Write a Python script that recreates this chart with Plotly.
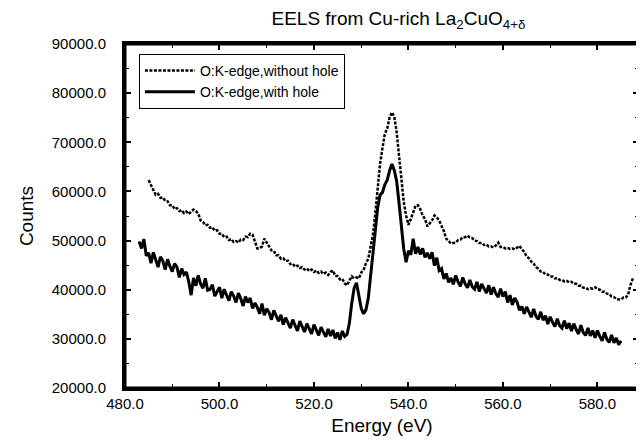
import numpy as np
import plotly.graph_objects as go

# Energy grids (eV), 0.5 eV sampling
energy_with_hole = np.round(np.arange(483.0, 585.01, 0.5), 1)
energy_without_hole = np.round(np.arange(485.0, 587.51, 0.5), 1)

counts_with_hole = [
    49800, 48400, 50300, 46900, 47500, 45400, 47600, 46200, 44600, 46700,
    45900, 44100, 46200, 44800, 43700, 45300, 44600, 42500, 44300, 43100,
    43600, 41600, 38900, 42400, 40800, 42900, 41200, 40300, 42300, 39900,
    40100, 41000, 38700, 39600, 40500, 38300, 40100, 38900, 37800, 39600,
    38700, 37400, 39300, 38200, 36700, 38600, 37400, 38300, 36200, 37300,
    36400, 35100, 37200, 34800, 36100, 35400, 33900, 35800, 34700, 33600,
    34900, 32900, 34300, 33400, 32200, 33900, 32800, 31600, 33600, 32300,
    31400, 33100, 32200, 31000, 32900, 31700, 30700, 32400, 31200, 30400,
    32000, 30600, 31800, 30100, 31300, 29800, 31600, 30500, 30900, 33200,
    37300, 40300, 41400, 38900, 36200, 35100, 35900, 38300, 43200, 48300,
    53200, 56800, 59300, 59800, 61400, 62300, 64200, 65600, 64300, 62100,
    57700, 53200, 48300, 45600, 47900, 47100, 50400, 47300, 48700, 47200,
    48400, 46600, 47500, 46300, 47600, 44900, 46500, 43900, 44300, 42200,
    43300, 41500, 42400, 41100, 42900, 41600, 40700, 42500, 41200, 40400,
    42000, 40600, 40100, 41600, 39600, 41200, 40200, 39300, 40900, 39000,
    40500, 39200, 38500, 40200, 38600, 39600, 37400, 38900, 36900, 38300,
    37500, 35800, 36600, 35100, 36500, 35300, 34400, 36100, 34600, 34000,
    35500, 33800, 34700, 33000, 34500, 33400, 32500, 34100, 32700, 32200,
    33700, 32100, 33200, 31600, 33100, 31900, 31000, 32800, 31300, 30700,
    32200, 30600, 31700, 30200, 31700, 30500, 29600, 31300, 29900, 29300,
    30800, 29200, 30200, 28800, 29600,
]

counts_without_hole = [
    62300, 61200, 60200, 59300, 59500, 58700, 58800, 58100, 58000, 57200,
    57200, 56400, 56600, 56000, 56200, 55600, 55900, 55400, 55900, 56300,
    56000, 55500, 54100, 53800, 53100, 53200, 52600, 52700, 52000, 52100,
    51400, 51400, 50700, 50800, 50100, 50300, 49700, 49900, 49600, 50200,
    50100, 50800, 50700, 51400, 51200, 50000, 48400, 48400, 48800, 50400,
    49600, 49000, 48000, 47900, 47000, 47000, 46300, 46400, 45800, 45900,
    45200, 45300, 44700, 44900, 44400, 44600, 44100, 44300, 43800, 44100,
    43600, 43900, 43400, 43700, 43200, 43500, 43000, 43600, 43900, 42800,
    42800, 42100, 42200, 41300, 40900, 41900, 42700, 42300, 42500, 42300,
    43500, 44000, 45400, 46300, 48700, 51300, 55700, 60800, 65700, 68800,
    71700, 72800, 75000, 76100, 75200, 72100, 67400, 62100, 57900, 55100,
    53200, 54400, 55700, 57100, 57200, 56400, 55100, 54400, 52900, 53400,
    54100, 55100, 54700, 54100, 53100, 51900, 50400, 49800, 49400, 49500,
    49600, 50100, 50200, 50700, 50700, 51000, 50600, 50500, 50000, 49900,
    49500, 49500, 49100, 49200, 48800, 48800, 48600, 49000, 49600, 48700,
    48700, 48400, 48500, 48300, 48400, 48200, 48600, 48900, 48200, 47700,
    46800, 46400, 45700, 45300, 44600, 44300, 43700, 43600, 43100, 43100,
    42700, 42700, 42300, 42400, 42000, 42000, 41700, 41800, 41500, 41600,
    41200, 41200, 40800, 40800, 40400, 40400, 40100, 40300, 40200, 40500,
    40100, 40000, 39600, 39600, 39200, 39100, 38600, 38500, 38100, 38100,
    38000, 38400, 38400, 39000, 41000, 42300,
]

x_ticks = [480, 500, 520, 540, 560, 580]
y_ticks = [20000, 30000, 40000, 50000, 60000, 70000, 80000, 90000]

FONT = "Liberation Sans, Arial, sans-serif"

# page body has an 8px margin, so the figure is made 8px smaller
W, H = 636, 435
ML, MR, MT, MB = 117, 2, 36, 55
PW = W - ML - MR

fig = go.Figure()
fig.add_trace(go.Scatter(
    x=energy_without_hole, y=counts_without_hole, mode="lines",
    name="O:K-edge,without hole",
    line=dict(color="black", width=2.5, dash="3px,1.5px"),
))
fig.add_trace(go.Scatter(
    x=energy_with_hole, y=counts_with_hole, mode="lines",
    name="O:K-edge,with hole",
    line=dict(color="black", width=3),
))

axis_common = dict(
    showline=True, linecolor="black", linewidth=3, mirror="allticks",
    ticks="inside", ticklen=6, tickwidth=1.5, tickcolor="black",
    showgrid=False, zeroline=False,
    tickfont=dict(family=FONT, size=15, color="black"),
    tickformat=".1f",
)

fig.update_layout(
    width=W, height=H,
    margin=dict(l=ML, r=MR, t=MT, b=MB),
    paper_bgcolor="white", plot_bgcolor="white",
    font=dict(family=FONT, color="black"),
    title=dict(
        text="EELS from Cu-rich La<sub>2</sub>CuO<sub>4+δ</sub>",
        x=(400 - 125) / PW, xref="paper", xanchor="center",
        y=1 - 10 / H, yref="container", yanchor="middle",
        font=dict(family=FONT, size=19, color="black"),
    ),
    xaxis=dict(
        range=[480, 588.8], tickvals=x_ticks,
        minor=dict(dtick=10, ticks="inside", ticklen=4, tickwidth=1, tickcolor="black"),
        title=dict(text="Energy (eV)", font=dict(family=FONT, size=19), standoff=8),
        **axis_common,
    ),
    yaxis=dict(
        range=[20000, 90000], tickvals=y_ticks,
        minor=dict(dtick=5000, ticks="inside", ticklen=4, tickwidth=1, tickcolor="black"),
        title=dict(text="Counts", font=dict(family=FONT, size=19), standoff=14),
        ticklabelstandoff=13,
        **axis_common,
    ),
    legend=dict(
        x=(139 - 125) / PW, y=1 - (54 - 44) / (H - MT - MB),
        xanchor="left", yanchor="top",
        bgcolor="white", bordercolor="black", borderwidth=1,
        font=dict(family=FONT, size=14, color="black"),
        tracegroupgap=0, itemwidth=50,
    ),
    shapes=[dict(type="rect", xref="paper", yref="paper", x0=0, y0=0, x1=1, y1=1,
                 line=dict(color="black", width=3), layer="above")],
)

fig.write_html("out.html")
